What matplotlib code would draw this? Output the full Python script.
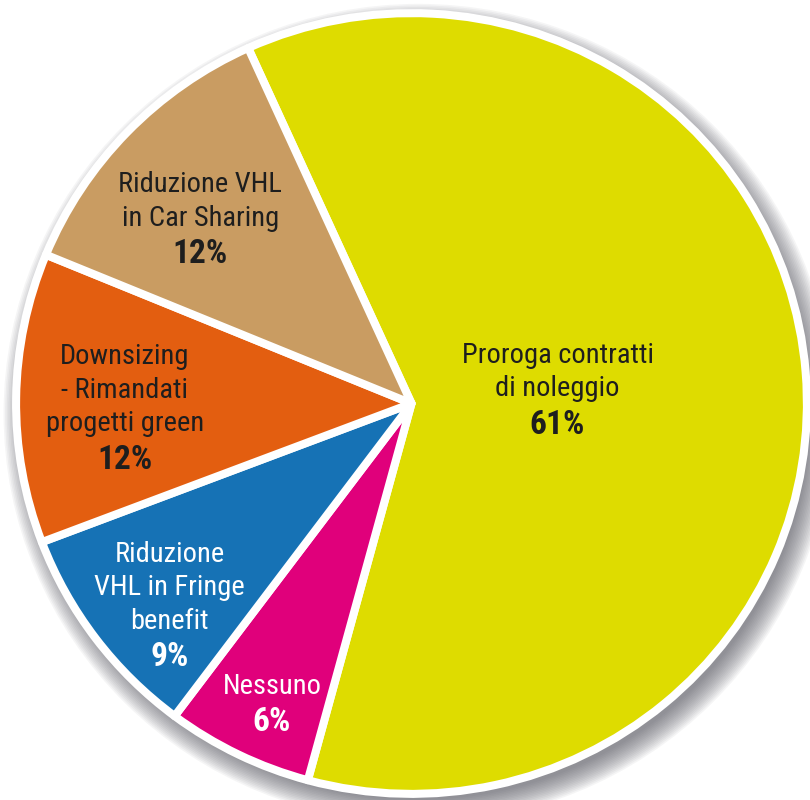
import numpy as np
import matplotlib.pyplot as plt
from matplotlib.patches import Ellipse

# data
categories = ["Proroga contratti\ndi noleggio", "Nessuno",
              "Riduzione\nVHL in Fringe\nbenefit",
              "Downsizing\n- Rimandati\nprogetti green",
              "Riduzione VHL\nin Car Sharing"]
values = [61, 6, 9, 12, 12]
pct_labels = ["61%", "6%", "9%", "12%", "12%"]

colors = ["#dedc00", "#e0007b", "#1672b5", "#e35e10", "#c99c62"]
text_colors = ["#1e1e1e", "white", "white", "#1e1e1e", "#1e1e1e"]
# where each label block sits: distance from centre and small angle nudge
label_dist = [0.375, 0.853, 0.808, 0.732, 0.722]
label_nudge = [1.2, 1.3, 3.1, 1.5, 2.4]

fig = plt.figure(figsize=(8.1, 8.0), dpi=100)
ax = fig.add_axes([0, 0, 1, 1])

# soft drop shadow behind the pie
for k in range(16):
    r = 1.0 + 0.004 * k
    ax.add_patch(Ellipse((0.018, -0.026), 2 * r, 2 * r, facecolor="#50505a",
                         edgecolor="none", alpha=0.055, zorder=0))
ax.add_patch(Ellipse((0, 0), 2 * 1.015, 2 * 1.015, facecolor="white",
                     edgecolor="none", zorder=1))

wedges, _ = ax.pie(values, colors=colors, startangle=114.4, counterclock=False,
                   radius=1.01, center=(0, 0),
                   wedgeprops=dict(edgecolor="white", linewidth=5.8,
                                   joinstyle="round", zorder=2))

line_h = 0.0867
fam = ["Roboto Condensed", "DejaVu Sans"]
for w, name, pct, tc, d, nd in zip(wedges, categories, pct_labels,
                                    text_colors, label_dist, label_nudge):
    ang = np.deg2rad((w.theta1 + w.theta2) / 2 + nd)
    x, y = d * np.cos(ang), d * np.sin(ang)
    lines = name.split("\n")
    n = len(lines) + 1
    top = y + (n - 1) / 2 * line_h
    for i, ln in enumerate(lines):
        ax.text(x, top - i * line_h, ln, ha="center", va="center",
                fontsize=20.5, color=tc, family=fam, zorder=5)
    ax.text(x, top - len(lines) * line_h - 0.006, pct, ha="center",
            va="center", fontsize=24, fontweight="bold", color=tc,
            family=fam, zorder=5)

ax.set_aspect("auto")
ax.set_xlim(-411.5 / 391.5, (810 - 411.5) / 391.5)
ax.set_ylim(-(800 - 403.5) / 386.5, 403.5 / 386.5)
ax.axis("off")

fig.savefig("out.png", dpi=100)
